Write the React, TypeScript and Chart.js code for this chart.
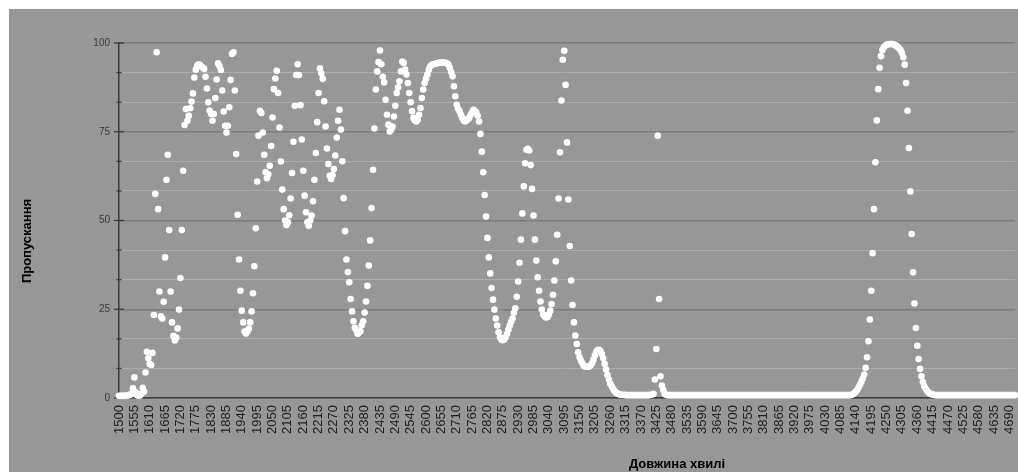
import { useEffect, useRef } from 'react';
import { Chart, registerables } from 'chart.js';

Chart.register(...registerables);

// ---- data -------------------------------------------------------------
const START_WAVELENGTH = 1500;
const WAVELENGTH_STEP = 5;
const LABEL_EVERY = 11; // one label every 55 units

// transmission values, one line = 10 samples (comment: first wavelength)
const transmission: number[] = [
  0.6, 0.6, 0.6, 0.6, 0.6, 0.7, 0.7, 0.8, 0.9, 1.2, // 1500
  2.7, 5.8, 1.6, 0.8, 0.7, 0.7, 1.2, 2.9, 1.8, 7.2, // 1550
  13, 11.2, 9.6, 9.3, 12.7, 23.4, 57.5, 97.4, 53.2, 30, // 1600
  23, 22.4, 27.1, 39.6, 61.5, 68.5, 47.3, 30, 21.3, 17.5, // 1650
  16.2, 17, 19.6, 24.9, 33.8, 47.3, 64, 76.9, 81.4, 78.1, // 1700
  79.5, 81.6, 83.5, 85.8, 90.3, 92.5, 93.6, 94, 93.8, 93.4, // 1750
  93.1, 92.7, 90.5, 87.2, 83.3, 81, 80, 78.1, 80, 84.5, // 1800
  89.7, 94.3, 93.5, 92.4, 86.6, 80.7, 76.7, 74.8, 76.7, 81.9, // 1850
  89.6, 96.9, 97.4, 86.6, 68.7, 51.6, 39, 30.2, 24.6, 21.3, // 1900
  18.7, 18.2, 18.7, 19.5, 21.3, 24.4, 29.5, 37.1, 47.8, 61, // 1950
  73.9, 80.9, 80.3, 74.8, 68.5, 63.6, 61.9, 63, 65.4, 71, // 2000
  79, 87, 90, 92.2, 85.9, 76.2, 66.6, 58.7, 53.2, 50, // 2050
  48.7, 49.5, 51.5, 56.2, 63.4, 72.2, 82.3, 91, 94, 91, // 2100
  82.5, 72.8, 64, 57, 52.3, 49.5, 48.5, 50, 51.4, 55.4, // 2150
  61.5, 69, 77.7, 85.9, 92.9, 91.5, 89.9, 83.6, 76.5, 70.3, // 2200
  65.9, 62.6, 61.7, 62.8, 64.5, 68.3, 73.4, 78.1, 81.2, 75.6, // 2250
  66.7, 56.3, 47, 39, 35.5, 32.6, 27.9, 24.4, 21.6, 19.8, // 2300
  19.2, 18.1, 18.5, 18.8, 20.5, 21.6, 24.1, 27.2, 31.6, 37.3, // 2350
  44.4, 53.5, 64.3, 75.9, 86.9, 92, 94.6, 97.9, 94, 90.5, // 2400
  88.9, 84, 79.8, 77, 75.1, 75.5, 76.5, 79.3, 82.3, 85.9, // 2450
  87.5, 89.2, 92, 94.8, 94.4, 92.5, 91.1, 88.7, 85.9, 83.3, // 2500
  80.8, 78.9, 78.2, 77.9, 78.4, 79.8, 81.7, 84.5, 86.9, 88.7, // 2550
  90, 91.1, 92.5, 93.4, 93.8, 94, 94.1, 94.2, 94.3, 94.4, // 2600
  94.4, 94.5, 94.5, 94.5, 94.4, 94.2, 94, 93, 91.8, 90.6, // 2650
  87.8, 85, 82.6, 81.5, 80.8, 79.8, 78.9, 78.2, 77.9, 78.2, // 2700
  78.5, 78.9, 79.8, 80.5, 81.2, 80.8, 80.5, 79.5, 77.9, 74.4, // 2750
  69.4, 63.6, 57.2, 51.1, 45.1, 39.6, 35.1, 31, 27.7, 24.9, // 2800
  22.4, 20.4, 18.5, 17.1, 16.5, 16.3, 16.5, 17.1, 18, 19.2, // 2850
  20.4, 21.5, 22.4, 24, 25.3, 28.5, 32.8, 38.1, 44.6, 52, // 2900
  59.6, 66.1, 69.9, 70.2, 69.7, 65.6, 58.9, 51.4, 44.6, 38.7, // 2950
  34, 30.2, 27.2, 24.9, 23.5, 23, 22.7, 22.8, 23.5, 24.6, // 3000
  26.5, 29.1, 33.1, 38.5, 46, 56.2, 69.2, 83.8, 95.3, 97.8, // 3050
  88.2, 72, 55.9, 42.8, 33.1, 26.2, 21.3, 17.6, 15.2, 12.9, // 3100
  11.5, 10.5, 9.8, 9.1, 8.9, 8.8, 8.8, 8.9, 9.2, 9.8, // 3150
  10.8, 12, 13, 13.5, 13.6, 13.2, 12.4, 11.2, 9.6, 8, // 3200
  6.5, 5.2, 4.1, 3.3, 2.6, 2, 1.6, 1.3, 1.1, 1, // 3250
  0.9, 0.9, 0.9, 0.8, 0.8, 0.8, 0.8, 0.8, 0.8, 0.8, // 3300
  0.8, 0.8, 0.8, 0.8, 0.8, 0.8, 0.8, 0.8, 0.8, 0.8, // 3350
  0.8, 0.9, 1.0, 1.2, 5.2, 13.8, 73.9, 27.9, 6.1, 3.5, // 3400
  2.3, 1.2, 0.9, 0.8, 0.8, 0.8, 0.8, 0.8, 0.8, 0.8, // 3450
  0.8, 0.8, 0.8, 0.8, 0.8, 0.8, 0.8, 0.8, 0.8, 0.8, // 3500
  0.8, 0.8, 0.8, 0.8, 0.8, 0.8, 0.8, 0.8, 0.8, 0.8, // 3550
  0.8, 0.8, 0.8, 0.8, 0.8, 0.8, 0.8, 0.8, 0.8, 0.8, // 3600
  0.8, 0.8, 0.8, 0.8, 0.8, 0.8, 0.8, 0.8, 0.8, 0.8, // 3650
  0.8, 0.8, 0.8, 0.8, 0.8, 0.8, 0.8, 0.8, 0.8, 0.8, // 3700
  0.8, 0.8, 0.8, 0.8, 0.8, 0.8, 0.8, 0.8, 0.8, 0.8, // 3750
  0.8, 0.8, 0.8, 0.8, 0.8, 0.8, 0.8, 0.8, 0.8, 0.8, // 3800
  0.8, 0.8, 0.8, 0.8, 0.8, 0.8, 0.8, 0.8, 0.8, 0.8, // 3850
  0.8, 0.8, 0.8, 0.8, 0.8, 0.8, 0.8, 0.8, 0.8, 0.8, // 3900
  0.8, 0.8, 0.8, 0.8, 0.8, 0.8, 0.8, 0.8, 0.8, 0.8, // 3950
  0.8, 0.8, 0.8, 0.8, 0.8, 0.8, 0.8, 0.8, 0.8, 0.8, // 4000
  0.8, 0.8, 0.8, 0.8, 0.8, 0.8, 0.8, 0.8, 0.8, 0.8, // 4050
  0.8, 0.8, 0.8, 0.8, 0.8, 0.9, 1.1, 1.4, 1.8, 2.3, // 4100
  3, 3.8, 4.6, 5.5, 6.6, 8.5, 11.5, 16, 22.1, 30.2, // 4150
  40.8, 53.2, 66.4, 78.2, 87, 93, 96.3, 98, 98.8, 99.2, // 4200
  99.5, 99.6, 99.7, 99.7, 99.7, 99.6, 99.4, 99.2, 98.9, 98.5, // 4250
  98, 97.2, 96, 93.9, 88.7, 80.9, 70.4, 58.2, 46.2, 35.4, // 4300
  26.6, 19.7, 14.7, 11, 8.2, 6.1, 4.5, 3.4, 2.6, 2, // 4350
  1.6, 1.3, 1.1, 1, 0.9, 0.8, 0.8, 0.8, 0.8, 0.8, // 4400
  0.8, 0.8, 0.8, 0.8, 0.8, 0.8, 0.8, 0.8, 0.8, 0.8, // 4450
  0.8, 0.8, 0.8, 0.8, 0.8, 0.8, 0.8, 0.8, 0.8, 0.8, // 4500
  0.8, 0.8, 0.8, 0.8, 0.8, 0.8, 0.8, 0.8, 0.8, 0.8, // 4550
  0.8, 0.8, 0.8, 0.8, 0.8, 0.8, 0.8, 0.8, 0.8, 0.8, // 4600
  0.8, 0.8, 0.8, 0.8, 0.8, 0.8, 0.8, 0.8, 0.8, 0.8, // 4650
  0.8, 0.8, 0.8, // 4700
];

// category labels (wavelengths)
const wavelengths: string[] = transmission.map((_, i) => String(START_WAVELENGTH + WAVELENGTH_STEP * i));

const yMajorTicks = [0, 25, 50, 75, 100];
const Y_MINOR_PER_MAJOR = 3;
const yTitle = 'Пропускання';
const xTitle = 'Довжина хвилі';

// ---- styles -----------------------------------------------------------
const BG = '#979797';
const GRID_MAJOR = '#7c7c7c';
const GRID_MINOR = '#ababab';
const AXIS = '#3a3a3a';
const FONT = "'Liberation Sans', Arial, sans-serif";

const yGridValues: number[] = [];
for (let k = 0; k < yMajorTicks.length - 1; k++) {
  const a = yMajorTicks[k];
  const b = yMajorTicks[k + 1];
  for (let m = 0; m < Y_MINOR_PER_MAJOR; m++) yGridValues.push(a + ((b - a) * m) / Y_MINOR_PER_MAJOR);
}
yGridValues.push(yMajorTicks[yMajorTicks.length - 1]);

const isMajor = (v: number) => yMajorTicks.some((m) => Math.abs(m - v) < 1e-6);

const decorPlugin = {
  id: 'decor',
  beforeDraw(chart: any) {
    const { ctx, width, height } = chart;
    ctx.save();
    ctx.fillStyle = BG;
    ctx.fillRect(0, 0, width, height);
    ctx.restore();
  },
  beforeDatasetsDraw(chart: any) {
    const { ctx, chartArea, scales } = chart;
    const y = scales.y;
    ctx.save();
    ctx.strokeStyle = AXIS;
    ctx.lineWidth = 1.2;
    y.ticks.forEach((t: any) => {
      const py = y.getPixelForValue(t.value);
      const len = isMajor(t.value) ? 5 : 2.5;
      ctx.beginPath();
      ctx.moveTo(chartArea.left - len, py);
      ctx.lineTo(chartArea.left + len, py);
      ctx.stroke();
    });
    ctx.restore();
  },
  afterDraw(chart: any) {
    const { ctx } = chart;
    ctx.save();
    ctx.fillStyle = '#000';
    ctx.font = `bold 13px ${FONT}`;
    ctx.textAlign = 'center';
    ctx.textBaseline = 'middle';
    ctx.save();
    ctx.translate(18, 232);
    ctx.rotate(-Math.PI / 2);
    ctx.fillText(yTitle, 0, 0);
    ctx.restore();
    ctx.textBaseline = 'alphabetic';
    ctx.fillText(xTitle, 668, 459);
    ctx.restore();
  },
};

export default function App() {
  const ref = useRef<HTMLCanvasElement>(null);

  useEffect(() => {
    const canvas = ref.current;
    if (!canvas) return;
    const chart = new Chart(canvas, {
      type: 'line',
      data: {
        labels: wavelengths,
        datasets: [
          {
            data: transmission,
            showLine: false,
            pointRadius: 3.3,
            pointHoverRadius: 3.3,
            pointBorderWidth: 0,
            pointBackgroundColor: '#ffffff',
            pointBorderColor: '#ffffff',
            clip: false as any,
          },
        ],
      },
      options: {
        animation: false,
        responsive: false,
        devicePixelRatio: 1,
        events: [],
        layout: { padding: { left: 0, top: 34, right: 0, bottom: 0 } },
        plugins: {
          legend: { display: false },
          tooltip: { enabled: false },
        },
        scales: {
          x: {
            type: 'category',
            offset: false,
            afterFit: (s: any) => {
              s.height = 74;
            },
            grid: { display: false, drawTicks: false },
            border: { display: true, color: AXIS, width: 1.5 },
            ticks: {
              autoSkip: false,
              minRotation: 90,
              maxRotation: 90,
              padding: 7,
              color: '#1f1f1f',
              font: { family: FONT, size: 13 },
              callback: (_v: any, i: number) => (i % LABEL_EVERY === 0 ? wavelengths[i] : null),
            },
          },
          y: {
            min: 0,
            max: 100,
            afterFit: (s: any) => {
              s.width = 110;
            },
            afterBuildTicks: (s: any) => {
              s.ticks = yGridValues.map((value) => ({ value }));
            },
            grid: {
              drawTicks: false,
              color: (c: any) => (c.tick && isMajor(c.tick.value) ? GRID_MAJOR : GRID_MINOR),
              lineWidth: (c: any) => (c.tick && isMajor(c.tick.value) ? 1.5 : 1),
            },
            border: { display: true, color: AXIS, width: 1.5 },
            ticks: {
              padding: 9,
              color: '#3a3a3a',
              font: { family: FONT, size: 10 },
              callback: (v: any) => (isMajor(Number(v)) ? String(Math.round(Number(v))) : ''),
            },
          },
        },
      },
      plugins: [decorPlugin],
    });
    return () => chart.destroy();
  }, []);

  return (
    <div style={{ position: 'absolute', left: 9, top: 9, width: 1009, height: 463, overflow: 'hidden' }}>
      <canvas ref={ref} width={1023} height={463} style={{ display: 'block', width: 1023, height: 463 }} />
    </div>
  );
}
